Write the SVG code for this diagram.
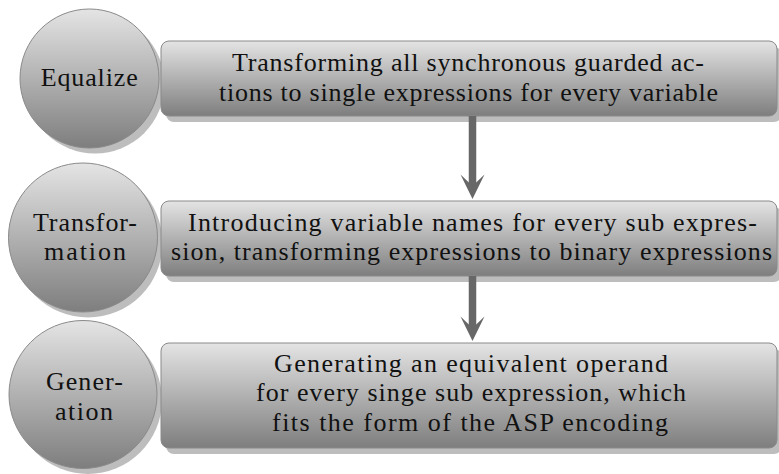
<svg xmlns="http://www.w3.org/2000/svg" width="779" height="474" viewBox="0 0 779 474">
<defs>
<linearGradient id="g" x1="0" y1="0" x2="0" y2="1">
<stop offset="0" stop-color="#e4e4e4"/>
<stop offset="1" stop-color="#7e7e7e"/>
</linearGradient>
</defs>
<style>
.sh{fill:#bdbdbd}
.nd{fill:url(#g);stroke:#8a8a8a;stroke-width:1}
.t{font-family:'Liberation Serif','DejaVu Serif',serif;font-size:26px;fill:#111;text-anchor:middle}
.ar{fill:#676767}
.sf{stroke:#676767;stroke-width:7.5;fill:none}
</style>
<g id="shadows">
<circle class="sh" cx="95" cy="84" r="69.5"/>
<circle class="sh" cx="88" cy="243" r="74.5"/>
<circle class="sh" cx="88" cy="400" r="74"/>
<rect class="sh" x="166" y="47" width="616" height="75" rx="8"/>
<rect class="sh" x="166" y="207" width="616" height="75" rx="8"/>
<rect class="sh" x="166" y="349" width="616" height="105" rx="8"/>
</g>
<g id="equalize">
<circle class="nd" cx="89.5" cy="78.5" r="69.5"/>
<text class="t" x="89.2" y="86" textLength="97" lengthAdjust="spacing">Equalize</text>
</g>
<g id="step1">
<rect class="nd" x="161" y="41" width="616" height="75" rx="8"/>
<text class="t" x="468" y="71" textLength="472" lengthAdjust="spacing">Transforming all synchronous guarded ac-</text>
<text class="t" x="468.5" y="100.5" textLength="499" lengthAdjust="spacing">tions to single expressions for every variable</text>
</g>
<g id="transformation">
<circle class="nd" cx="83" cy="237.5" r="74.5"/>
<text class="t" x="85" y="231" textLength="104" lengthAdjust="spacing">Transfor-</text>
<text class="t" x="85" y="260" textLength="82" lengthAdjust="spacing">mation</text>
</g>
<g id="step2">
<rect class="nd" x="161" y="201" width="616" height="75" rx="8"/>
<text class="t" x="472.5" y="231" textLength="569" lengthAdjust="spacing">Introducing variable names for every sub expres-</text>
<text class="t" x="471.5" y="260" textLength="601" lengthAdjust="spacing">sion, transforming expressions to binary expressions</text>
</g>
<g id="generation">
<circle class="nd" cx="83" cy="394.5" r="74"/>
<text class="t" x="84.4" y="390" textLength="77" lengthAdjust="spacing">Gener-</text>
<text class="t" x="84" y="419.5" textLength="58" lengthAdjust="spacing">ation</text>
</g>
<g id="step3">
<rect class="nd" x="161" y="343" width="616" height="105" rx="8"/>
<text class="t" x="471" y="371.5" textLength="394" lengthAdjust="spacing">Generating an equivalent operand</text>
<text class="t" x="471" y="401" textLength="430" lengthAdjust="spacing">for every singe sub expression, which</text>
<text class="t" x="470" y="430.5" textLength="396" lengthAdjust="spacing">fits the form of the ASP encoding</text>
</g>
<g id="connectors">
<line class="sf" x1="472.5" y1="116" x2="472.5" y2="188"/>
<path class="ar" d="M472.5 199 L460.5 174.5 L472.5 186 L484.5 174.5 Z"/>
<line class="sf" x1="472.5" y1="276" x2="472.5" y2="330"/>
<path class="ar" d="M472.5 341 L460.5 316.5 L472.5 328 L484.5 316.5 Z"/>
</g>
</svg>
